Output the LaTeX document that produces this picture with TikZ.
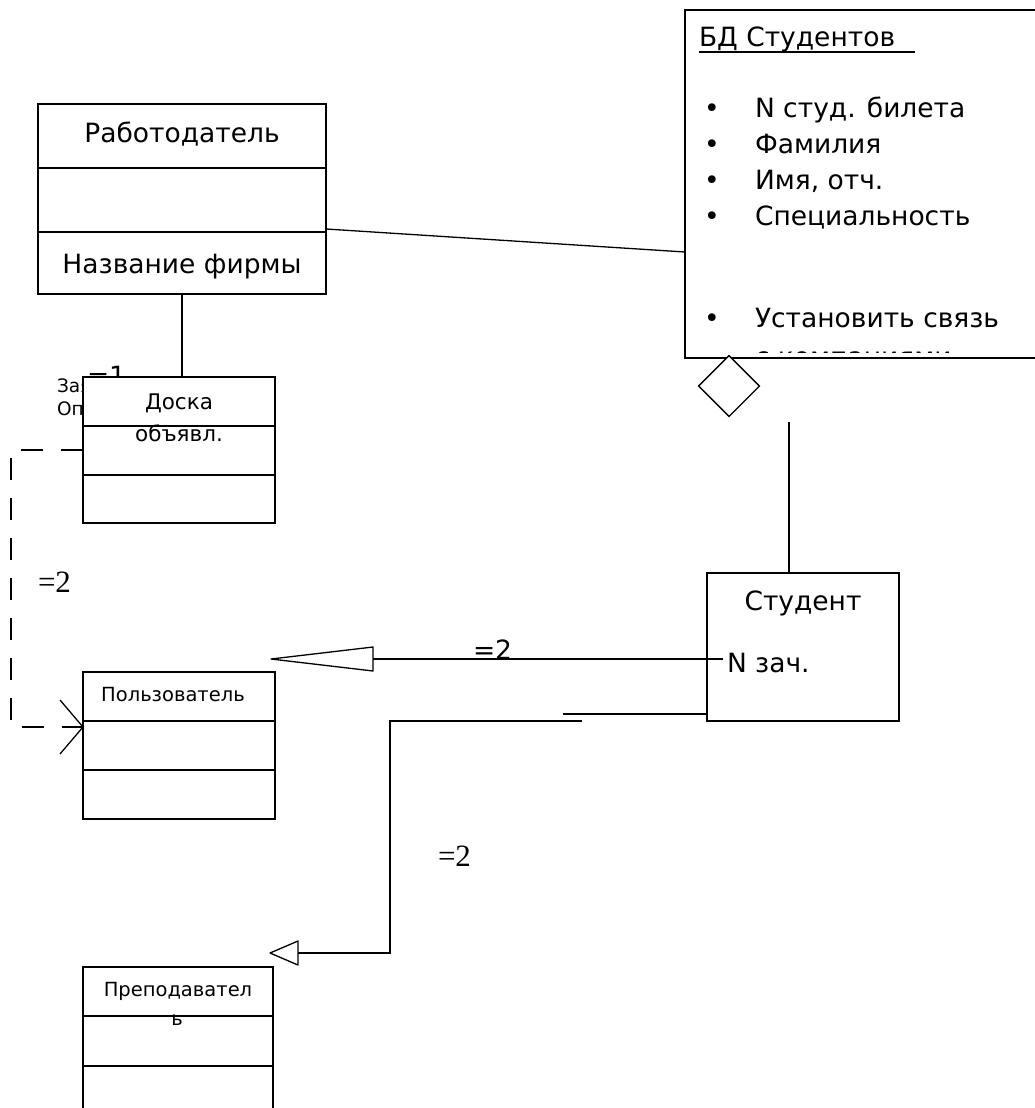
\documentclass[tikz,border=0pt]{standalone}
\usepackage{fontspec}
\setmainfont{DejaVu Sans}
\newfontfamily\serifnum{Liberation Serif}
\usetikzlibrary{calc}

\tikzset{
  box/.style={draw, fill=white, line width=1.3pt, inner sep=0pt, outer sep=0pt, anchor=north west},
  conn/.style={line width=1.3pt},
  headline/.style={line width=1.3pt, line join=round},
  dashconn/.style={line width=1.3pt, dash pattern=on 22pt off 18pt},
  txt/.style={inner sep=0pt, outer sep=0pt},
  big/.style={font=\fontsize{26.5}{32}\selectfont},
  mid/.style={font=\fontsize{21.5}{26}\selectfont},
  small/.style={font=\fontsize{19.5}{24}\selectfont},
  tiny/.style={font=\fontsize{18.5}{22}\selectfont},
  numlbl/.style={txt, font=\serifnum\fontsize{31}{36}\selectfont},
  bul/.style={txt, big, anchor=base},
}

\begin{document}
\begin{tikzpicture}[x=1pt, y=-1pt]
\useasboundingbox (0,0) rectangle (1035,1108);

% ---- Работодатель ----
\node[box, minimum width=288pt, minimum height=190pt] (emp) at (38,104) {};
\draw[conn] (38,168) -- (326,168);
\draw[conn] (38,232) -- (326,232);
\node[txt, big, anchor=base] (empname) at (182,142) {Работодатель};
\node[txt, big, anchor=base] (empattr) at (182,273) {Название фирмы};

% ---- БД Студентов ----
\node[box, minimum width=360pt, minimum height=348pt] (db) at (685,10) {};
\node[txt, big, anchor=base west] (dbtitle) at (699,47) {БД Студентов\strut};
\draw[line width=1.2pt] (699,52) -- (915,52);
\foreach \yy/\tt [count=\i] in {117/N студ. билета, 153/Фамилия, 189/{Имя, отч.}, 225/Специальность, 327/Установить связь}{
  \node[bul] (b\i) at (712,\yy) {\textbullet};
  \node[txt, big, anchor=base west] (l\i) at (755,\yy) {\tt};
}
% next item line, cut off by the box bottom
\begin{scope}
  \clip (700,340) rectangle (1030,352.5);
  \node[txt, big, anchor=base west] (l6) at (755,366.5) {с компаниями};
\end{scope}

% ---- aggregation diamond ----
\node[draw, line width=1.3pt, fill=white, inner sep=0pt, outer sep=0pt,
      shape=rectangle, minimum size=43pt, rotate=45] (dia) at (729,386) {};

% ---- Студент ----
\node[box, minimum width=192pt, minimum height=148pt] (stud) at (707,573) {};
\node[txt, big, anchor=base] (studname) at (803,610) {Студент};
\node[txt, big, anchor=base west] (studattr) at (727,672) {N зач.};

% ---- labels partly hidden behind the board box ----
\node[txt, tiny, anchor=base west] (h1) at (57,392) {Заявки};
\node[txt, tiny, anchor=base west] (h2) at (57,415) {Опыт};
\node[txt, big, anchor=base west] (eq1) at (87,385) {=1};

% ---- Доска объявл. ----
\node[box, minimum width=192pt, minimum height=146pt] (board) at (83,377) {};
\draw[conn] (83,426) -- (275,426);
\draw[conn] (83,475) -- (275,475);
\node[txt, mid, anchor=base] (boardname) at (179,409) {Доска};
\node[txt, mid, anchor=base] (boardname2) at (179,441) {объявл.};

% ---- Пользователь ----
\node[box, minimum width=192pt, minimum height=147pt] (user) at (83,672) {};
\draw[conn] (83,721) -- (275,721);
\draw[conn] (83,770) -- (275,770);
\node[txt, small, anchor=base] (username) at (173,701) {Пользователь};

% ---- Преподаватель ----
\node[box, minimum width=190pt, minimum height=160pt] (teach) at (83,967) {};
\draw[conn] (83,1016) -- (273,1016);
\draw[conn] (83,1066) -- (273,1066);
\node[txt, small, anchor=base] (teachname) at (178,996) {Преподавател};
\node[txt, small, anchor=base] (teachname2) at (177,1025) {ь};

% ---- connectors ----
\coordinate (empR) at ($(emp.north east)+(0,125)$);
\coordinate (dbL) at ($(db.north west)+(0,242)$);
\draw[conn] (empR) -- (dbL);

\coordinate (empB) at (182,294);
\draw[conn] (empB) -- (empB |- board.north);

\coordinate (diaLineTop) at (789,422);
\draw[conn] (diaLineTop) -- (diaLineTop |- stud.north);

% generalisation Студент -> Пользователь
\coordinate (studN) at (723,659);
\coordinate (tipA) at (271,659);
\coordinate (baseA) at (373,659);
\draw[conn] (studN) -- (baseA);
\draw[headline] ($(baseA)+(0,-12)$) -- (tipA) -- ($(baseA)+(0,12)$) -- cycle;
\node[txt, big, anchor=base west] (eq2a) at (473,659) {=2};

% generalisation Студент -> Преподаватель
\coordinate (studSW) at ($(stud.south west)+(0,-7)$);
\coordinate (stubL) at (563,714);
\draw[conn] (studSW) -- (stubL);
\coordinate (bendA) at (582,721);
\coordinate (bendB) at (390,721);
\coordinate (bendC) at (390,953);
\coordinate (baseB) at (298,953);
\coordinate (tipB) at (270,953);
\draw[conn] (bendA) -- (bendB) -- (bendC) -- (baseB);
\draw[headline] ($(baseB)+(0,-12)$) -- (tipB) -- ($(baseB)+(0,12)$) -- cycle;
\node[numlbl, anchor=base west] (eq2c) at (438,866) {=2};

% dependency Доска -> Пользователь
\coordinate (boardL) at (board.west |- 0,450);
\coordinate (userL) at (user.west |- 0,727);
\draw[dashconn] (boardL) -- (11,450) -- (11,727) -- (userL);
\draw[conn] (60,700) -- (userL) -- (60,754);
\node[numlbl, anchor=base west] (eq2b) at (38,592) {=2};

\end{tikzpicture}
\end{document}
